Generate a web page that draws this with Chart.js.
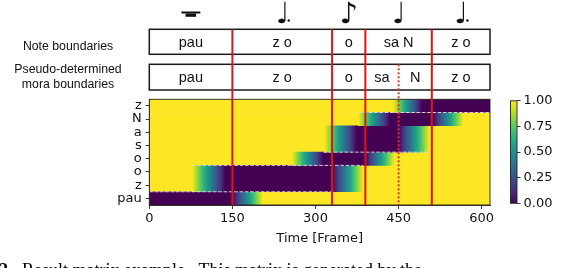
<!DOCTYPE html>
<html>
<head>
<meta charset="utf-8">
<script src="https://cdn.jsdelivr.net/npm/chart.js@4.4.1/dist/chart.umd.min.js"></script>
<style>
  html, body { margin: 0; padding: 0; background: #fff; }
  #wrap { position: relative; width: 574px; height: 268px; overflow: hidden; }
  #main { position: absolute; left: 0; top: 0; }
  #cbar { position: absolute; left: 500px; top: 90px; }
</style>
</head>
<body>
<div id="wrap">
  <canvas id="main" width="574" height="268"></canvas>
  <canvas id="cbar" width="74" height="125"></canvas>
</div>
<script>
// phoneme rows, top to bottom
const phonemes = ["z", "N", "a", "s", "o", "o", "z", "pau"];
// per row: where the ramp into the dark block starts, the dark block, where the ramp out ends (frames)
const rampInStart = [440, 377, 316, 316, 257, 77, 77, null];
const darkStart = [492, 434, 374, 374, 314, 137, 137, 0];
const darkEnd = [615, 512, 450, 450, 390, 330, 330, 150];
const rampOutEnd = [null, 567, 506, 506, 443, 386, 386, 205];
const maxFrame = 615;
const xTicks = [0, 150, 300, 450, 600];

// note / mora segments
const noteBounds = [0, 150, 330, 390, 510, 615];
const noteText = ["pau", "z o", "o", "sa N", "z o"];
const noteSymbols = ["rest", "♩", "♪", "♩", "♩"];
const noteDotted = [false, true, false, false, true];
const moraBounds = [0, 150, 330, 390, 450, 510, 615];
const moraText = ["pau", "z o", "o", "sa", "N", "z o"];
const dottedBound = 450;

// white dashed mora separators inside the matrix
const dashRows = [6.5, 4.5, 3.5, 0.5];
const dashFrom = [0, 77, 314, 377];
const dashTo = [332, 386, 506, 615];

const cbTicks = [0, 0.25, 0.5, 0.75, 1];

const viridis = ["#440154", "#482475", "#414487", "#355f8d", "#2a788e", "#21918c",
                 "#22a884", "#44bf70", "#7ad151", "#bddf26", "#fde725"];
const DARK = viridis[0];
const YELLOW = viridis[viridis.length - 1];

function viridisGradient(ctx, x0, y0, x1, y1, v0, v1) {
    const g = ctx.createLinearGradient(x0, y0, x1, y1);
    viridis.forEach((c, i) => {
        const v = i / (viridis.length - 1);
        const t = (v - v0) / (v1 - v0);
        if (t >= 0 && t <= 1) g.addColorStop(t, c);
    });
    return g;
}

function rampColor(from, to) {
    return function(c) {
        const chart = c.chart;
        if (!chart.chartArea || !c.raw) return YELLOW;
        const x = chart.scales.x;
        return viridisGradient(chart.ctx, x.getPixelForValue(c.raw[0]), 0, x.getPixelForValue(c.raw[1]), 0, from, to);
    };
}

const rampInData = phonemes.map((p, i) => rampInStart[i] === null ? null : [rampInStart[i], darkStart[i]]);
const darkData = phonemes.map((p, i) => [darkStart[i], darkEnd[i]]);
const rampOutData = phonemes.map((p, i) => rampOutEnd[i] === null ? null : [darkEnd[i], rampOutEnd[i]]);
const baseData = phonemes.map(() => [0, maxFrame]);

const barCommon = { barPercentage: 1, categoryPercentage: 1, grouped: false, borderWidth: 0 };

const axisFont = { family: "'DejaVu Sans'", size: 13 };
const labelFont = "'Liberation Sans', Arial, sans-serif";

const overlay = {
    id: "overlay",
    afterDatasetsDraw(chart) {
        const ctx = chart.ctx;
        const x = chart.scales.x, y = chart.scales.y;
        const a = chart.chartArea;
        ctx.save();
        // dashed separators
        ctx.strokeStyle = "rgba(225,225,225,0.9)";
        ctx.lineWidth = 1;
        ctx.setLineDash([3.7, 1.6]);
        dashRows.forEach((r, i) => {
            const py = y.getPixelForValue(r);
            ctx.beginPath();
            ctx.moveTo(x.getPixelForValue(dashFrom[i]), py);
            ctx.lineTo(x.getPixelForValue(dashTo[i]), py);
            ctx.stroke();
        });
        ctx.setLineDash([]);
        // axes frame
        ctx.strokeStyle = "#222";
        ctx.lineWidth = 0.9;
        ctx.strokeRect(a.left, a.top, a.right - a.left, a.bottom - a.top);
        ctx.restore();
    },
    afterDraw(chart) {
        const ctx = chart.ctx;
        const x = chart.scales.x;
        const a = chart.chartArea;
        const left = x.getPixelForValue(0), right = x.getPixelForValue(maxFrame);
        const box1 = [29.3, 54.3], box2 = [64.3, 90];
        ctx.save();

        // boxes
        ctx.strokeStyle = "#1a1a1a";
        ctx.lineWidth = 1.5;
        [box1, box2].forEach(b => ctx.strokeRect(left, b[0], right - left, b[1] - b[0]));

        // texts in boxes
        ctx.fillStyle = "#111";
        ctx.font = "14.5px " + labelFont;
        ctx.textAlign = "center";
        ctx.textBaseline = "alphabetic";
        noteText.forEach((t, i) => {
            const cx = x.getPixelForValue((noteBounds[i] + noteBounds[i + 1]) / 2);
            ctx.fillText(t, cx, 47.3);
        });
        moraText.forEach((t, i) => {
            const cx = x.getPixelForValue((moraBounds[i] + moraBounds[i + 1]) / 2);
            ctx.fillText(t, cx, 82.3);
        });

        // left labels
        ctx.font = "12.3px " + labelFont;
        ctx.fillText("Note boundaries", 68, 49.5);
        ctx.fillText("Pseudo-determined", 68, 72.5);
        ctx.fillText("mora boundaries", 68, 88);

        // note symbols
        noteSymbols.forEach((s, i) => {
            const cx = x.getPixelForValue((noteBounds[i] + noteBounds[i + 1]) / 2);
            if (s === "rest") {
                ctx.fillRect(cx - 9.5, 11.5, 19, 2);
                ctx.fillRect(cx - 5.3, 13.5, 10.6, 3.3);
                return;
            }
            ctx.font = "29px 'DejaVu Sans'";
            ctx.fillText(s, cx, 23);
            if (noteDotted[i]) {
                ctx.beginPath();
                ctx.arc(cx + 6.5, 20.5, 1.2, 0, Math.PI * 2);
                ctx.fill();
            }
        });

        // red note boundaries
        ctx.strokeStyle = "#dd1515";
        ctx.lineWidth = 2;
        noteBounds.slice(1, -1).forEach(b => {
            const px = x.getPixelForValue(b);
            ctx.beginPath();
            ctx.moveTo(px, box1[0]);
            ctx.lineTo(px, a.bottom);
            ctx.stroke();
        });
        // dotted mora boundary
        ctx.strokeStyle = "#f02a2a";
        ctx.setLineDash([2, 2]);
        const dx = x.getPixelForValue(dottedBound);
        ctx.beginPath();
        ctx.moveTo(dx, box2[0]);
        ctx.lineTo(dx, a.bottom);
        ctx.stroke();
        ctx.setLineDash([]);

        // caption (cut off by page bottom)
        ctx.textAlign = "left";
        ctx.fillStyle = "#000";
        ctx.font = "bold 18px 'Liberation Serif', serif";
        ctx.fillText("2.", -1, 276);
        ctx.font = "18px 'Liberation Serif', serif";
        ctx.fillText("Result matrix example.  This matrix is generated by the", 22, 276);
        ctx.restore();
    }
};

new Chart(document.getElementById("main"), {
    type: "bar",
    data: {
        labels: phonemes,
        datasets: [
            Object.assign({ data: rampInData, backgroundColor: rampColor(1, 0), order: 0 }, barCommon),
            Object.assign({ data: darkData, backgroundColor: DARK, order: 0 }, barCommon),
            Object.assign({ data: rampOutData, backgroundColor: rampColor(0, 1), order: 0 }, barCommon),
            Object.assign({ data: baseData, backgroundColor: YELLOW, order: 1 }, barCommon)
        ]
    },
    options: {
        indexAxis: "y",
        responsive: false,
        animation: false,
        layout: { padding: { left: 0, right: 84, top: 99.3, bottom: 0 } },
        plugins: { legend: { display: false }, tooltip: { enabled: false } },
        scales: {
            x: {
                type: "linear",
                min: 0,
                max: maxFrame,
                afterBuildTicks: s => { s.ticks = xTicks.map(v => ({ value: v })); },
                afterFit: s => { s.height = 63; },
                ticks: { font: axisFont, color: "#111", padding: 2, maxRotation: 0 },
                grid: { drawOnChartArea: false, drawTicks: true, tickLength: 4, color: "#222", lineWidth: 0.9 },
                border: { display: true, color: "#222", width: 0.9 },
                title: { display: true, text: "Time [Frame]", font: axisFont, color: "#111", padding: { top: 0, bottom: 21.2 } }
            },
            y: {
                type: "category",
                afterFit: s => { s.width = 149.3; },
                ticks: { font: axisFont, color: "#111", padding: 4, autoSkip: false },
                grid: { offset: false, drawOnChartArea: false, drawTicks: true, tickLength: 3.5, color: "#222", lineWidth: 0.9 },
                border: { display: true, color: "#222", width: 0.9 }
            }
        }
    },
    plugins: [overlay]
});

// colorbar
const cbOutline = {
    id: "cbOutline",
    afterDatasetsDraw(chart) {
        const a = chart.chartArea;
        const ctx = chart.ctx;
        ctx.save();
        ctx.strokeStyle = "#222";
        ctx.lineWidth = 0.9;
        ctx.strokeRect(a.left, a.top, a.right - a.left, a.bottom - a.top);
        ctx.restore();
    }
};

new Chart(document.getElementById("cbar"), {
    type: "bar",
    data: {
        labels: [""],
        datasets: [{
            data: [[0, 1]],
            barPercentage: 1,
            categoryPercentage: 1,
            borderWidth: 0,
            backgroundColor: function(c) {
                const chart = c.chart;
                if (!chart.chartArea) return YELLOW;
                const a = chart.chartArea;
                return viridisGradient(chart.ctx, 0, a.bottom, 0, a.top, 0, 1);
            }
        }]
    },
    options: {
        responsive: false,
        animation: false,
        layout: { padding: { left: 10.5, right: 0, top: 9.3, bottom: 11.7 } },
        plugins: { legend: { display: false }, tooltip: { enabled: false } },
        scales: {
            x: { display: false },
            y: {
                position: "right",
                min: 0,
                max: 1,
                afterBuildTicks: s => { s.ticks = cbTicks.map(v => ({ value: v })); },
                afterFit: s => { s.width = 57; },
                ticks: { font: axisFont, color: "#111", padding: 3, callback: v => v.toFixed(2) },
                grid: { drawOnChartArea: false, drawTicks: true, tickLength: 3.5, color: "#222", lineWidth: 0.9 },
                border: { display: false }
            }
        }
    },
    plugins: [cbOutline]
});
</script>
</body>
</html>
